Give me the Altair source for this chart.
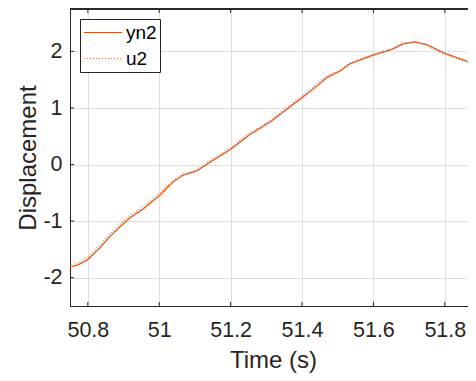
import altair as alt
import pandas as pd

# ---- data ----
time = [50.750, 50.770, 50.798, 50.834, 50.862, 50.890, 50.918, 50.954, 51.002, 51.038,
        51.066, 51.106, 51.142, 51.198, 51.254, 51.310, 51.366, 51.402, 51.442, 51.470,
        51.506, 51.534, 51.598, 51.654, 51.682, 51.716, 51.750, 51.795, 51.834, 51.885]
yn2 = [-1.81, -1.78, -1.69, -1.47, -1.27, -1.10, -0.94, -0.79, -0.54, -0.31,
       -0.19, -0.11, 0.04, 0.26, 0.53, 0.75, 1.02, 1.19, 1.39, 1.54,
       1.65, 1.78, 1.93, 2.04, 2.13, 2.17, 2.12, 1.98, 1.89, 1.78]
u2 = [-1.80, -1.75, -1.65, -1.42, -1.22, -1.05, -0.90, -0.75, -0.50, -0.28,
      -0.17, -0.09, 0.07, 0.29, 0.56, 0.78, 1.05, 1.22, 1.43, 1.57,
      1.67, 1.80, 1.95, 2.06, 2.15, 2.17, 2.10, 1.96, 1.87, 1.77]
series_names = ["yn2", "u2"]
x_ticks = [50.8, 51.0, 51.2, 51.4, 51.6, 51.8]
y_ticks = [-2, -1, 0, 1, 2]

W, H = 398, 297
FONT = "Liberation Sans"
TXT = "#262626"

n = len(time)
df = pd.DataFrame({
    "t": time + time,
    "v": yn2 + u2,
    "s": [series_names[0]] * n + [series_names[1]] * n,
})

xs = alt.Scale(domain=[50.75, 51.865], nice=False, zero=False)
ys = alt.Scale(domain=[-2.5, 2.75], nice=False, zero=False)

x_axis = alt.Axis(
    values=x_ticks, title="Time (s)", ticks=False, labelPadding=13,
    labelExpr="datum.value",
    titleX=203, titleY=61, titleBaseline="alphabetic", titleAlign="center",
    titleAnchor="start")
y_axis = alt.Axis(
    values=y_ticks, title="Displacement", ticks=False, labelPadding=8,
    labelExpr="datum.value", titleX=-35, titleY=H / 2,
    titleBaseline="alphabetic", titleAlign="center", titleAngle=-90,
    titleAnchor="start")

leg = alt.Legend(title=None, orient="none", legendX=10, legendY=10)

lines = alt.Chart(df).mark_line(clip=True, strokeWidth=1.2).encode(
    x=alt.X("t:Q", scale=xs, axis=x_axis),
    y=alt.Y("v:Q", scale=ys, axis=y_axis),
    color=alt.Color("s:N", scale=alt.Scale(domain=series_names, range=["#D95319", "#E0703F"]), legend=leg),
    strokeDash=alt.StrokeDash("s:N", scale=alt.Scale(domain=series_names, range=[[1, 0], [1, 2]]), legend=leg),
)

xt = pd.DataFrame({"t": x_ticks})
yt = pd.DataFrame({"v": y_ticks})

bottom_ticks = alt.Chart(xt).mark_rule(color=TXT, strokeWidth=1).encode(
    x=alt.X("t:Q", scale=xs, axis=x_axis), y=alt.value(H), y2=alt.value(H - 4))
top_ticks = alt.Chart(xt).mark_rule(color=TXT, strokeWidth=1).encode(
    x=alt.X("t:Q", scale=xs, axis=x_axis), y=alt.value(0), y2=alt.value(4))
left_ticks = alt.Chart(yt).mark_rule(color=TXT, strokeWidth=1).encode(
    y=alt.Y("v:Q", scale=ys, axis=y_axis), x=alt.value(0), x2=alt.value(4))
top_border = alt.Chart(xt).mark_rule(color=TXT, strokeWidth=1).encode(
    x=alt.value(0), x2=alt.value(W), y=alt.value(0))

chart = alt.layer(lines, bottom_ticks, top_ticks, left_ticks, top_border).properties(
    width=W, height=H,
    autosize=alt.AutoSizeParams(type="none"),
    padding={"left": 62, "top": 1, "right": 0, "bottom": 70},
).configure_view(strokeWidth=0).configure_axis(
    labelFont=FONT, labelFontSize=21.5, labelColor=TXT,
    titleFont=FONT, titleFontSize=24, titleColor=TXT, titleFontWeight="normal",
    grid=True, gridColor="#dfdfdf", gridWidth=1,
    domain=True, domainColor=TXT, domainWidth=1,
).configure_legend(
    labelFont=FONT, labelFontSize=19, labelColor="#000000",
    symbolType="M-1,0H3", symbolSize=361, symbolStrokeWidth=1.2,
    padding=3, rowPadding=5, labelOffset=22,
    strokeColor=TXT, fillColor="#ffffff", cornerRadius=0,
)

chart.save("out.html", embed_options={"renderer": "svg", "actions": False})
